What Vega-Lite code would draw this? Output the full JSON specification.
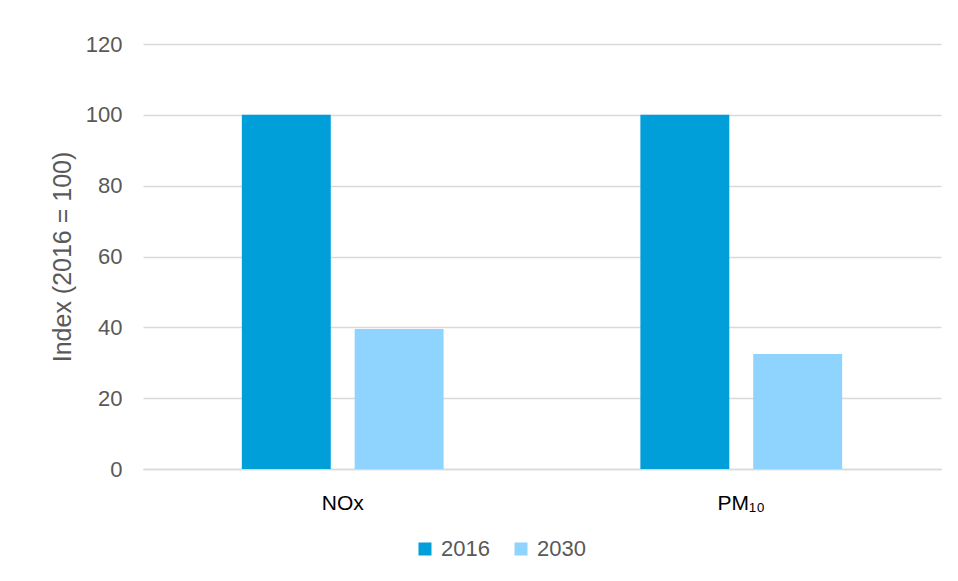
{
  "$schema": "https://vega.github.io/schema/vega-lite/v6.json",
  "width": 798,
  "height": 425,
  "autosize": {"type": "none"},
  "padding": {"left": 143, "top": 44, "right": 17, "bottom": 112},
  "background": "white",
  "data": {
    "values": [
      {"pollutant": "NOx", "year": "2016", "index": 100},
      {"pollutant": "NOx", "year": "2030", "index": 39.5},
      {"pollutant": "PM₁₀", "year": "2016", "index": 100},
      {"pollutant": "PM₁₀", "year": "2030", "index": 32.5}
    ]
  },
  "mark": {"type": "bar"},
  "encoding": {
    "x": {
      "field": "pollutant",
      "type": "nominal",
      "sort": ["NOx", "PM₁₀"],
      "scale": {"paddingInner": 0.4937, "paddingOuter": 0.248},
      "axis": {
        "title": null,
        "labelAngle": 0,
        "labelFont": "Liberation Sans",
        "labelFontSize": 21,
        "labelColor": "#000000",
        "labelPadding": 23,
        "ticks": false,
        "domainColor": "#D9D9D9",
        "domainWidth": 1.5
      }
    },
    "xOffset": {
      "field": "year",
      "type": "nominal",
      "scale": {"paddingInner": 0.212, "paddingOuter": 0}
    },
    "y": {
      "field": "index",
      "type": "quantitative",
      "scale": {"domain": [0, 120]},
      "axis": {
        "title": "Index (2016 = 100)",
        "values": [0, 20, 40, 60, 80, 100, 120],
        "labelFont": "Liberation Sans",
        "labelFontSize": 22,
        "labelColor": "#595959",
        "labelPadding": 21,
        "ticks": false,
        "domain": false,
        "gridColor": "#D9D9D9",
        "gridWidth": 1.5,
        "titleFont": "Liberation Sans",
        "titleFontSize": 25,
        "titleFontWeight": "normal",
        "titleColor": "#595959",
        "titleX": -81,
        "titleY": 212.5,
        "titleAngle": -90,
        "titleAlign": "center",
        "titleBaseline": "middle"
      }
    },
    "color": {
      "field": "year",
      "type": "nominal",
      "scale": {"domain": ["2016", "2030"], "range": ["#009FDA", "#8FD3FF"]},
      "legend": {
        "title": null,
        "orient": "none",
        "direction": "horizontal",
        "legendX": 271,
        "legendY": 494,
        "symbolType": "square",
        "symbolSize": 169,
        "symbolStrokeWidth": 0,
        "labelFont": "Liberation Sans",
        "labelFontSize": 22,
        "labelColor": "#595959",
        "labelOffset": 5,
        "columnPadding": 20
      }
    }
  },
  "config": {
    "view": {"stroke": null}
  }
}
